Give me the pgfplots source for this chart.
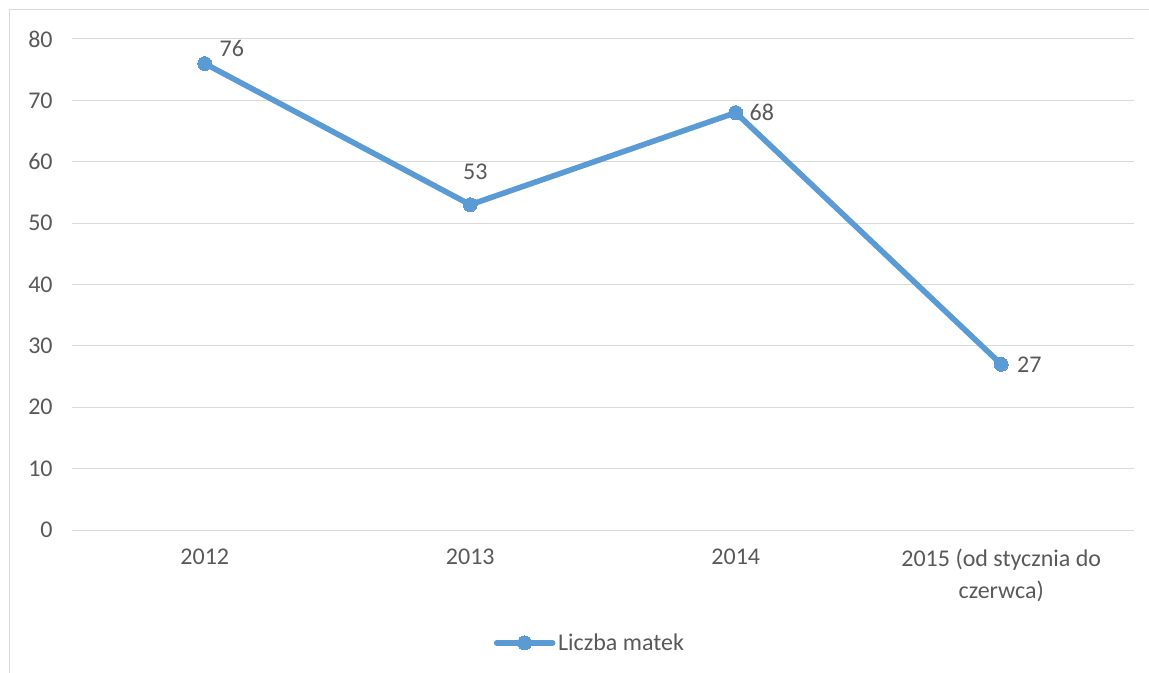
\documentclass[border=0pt]{standalone}
\usepackage{pgfplots}
\pgfplotsset{compat=1.18}
\usepackage{fontspec}
\setmainfont{Carlito}
\definecolor{ser}{HTML}{5B9BD5}
\definecolor{txt}{HTML}{595959}
\definecolor{grd}{HTML}{D9D9D9}
\begin{document}
\begin{tikzpicture}
\useasboundingbox (0pt,0pt) rectangle (861.75pt,504pt);
\draw[grd, line width=0.75pt] (6.75pt,-20pt) -- (6.75pt,496.5pt) -- (880pt,496.5pt);
\begin{axis}[
  at={(54pt,106.5pt)}, anchor=south west,
  scale only axis, width=796.5pt, height=368.25pt,
  xmin=-0.5, xmax=3.5, ymin=0, ymax=80,
  ytick={0,10,...,80},
  xtick={0,1,2,3},
  xticklabels={2012,2013,2014,{2015 (od stycznia do\\czerwca)}},
  axis line style={draw=none},
  tick style={draw=none},
  ymajorgrids, grid style={grd, line width=0.75pt},
  /pgf/number format/assume math mode=true,
  ticklabel style={font=\fontsize{18}{24}\selectfont, text=txt},
  xticklabel style={align=center, yshift=-10.5pt},
  yticklabel style={xshift=-11pt},
  legend style={draw=none, fill=none, at={(0.488,-0.230)}, anchor=center,
    font=\fontsize{18}{22}\selectfont, text=txt},
  legend image code/.code={\draw[mark repeat=2,mark phase=2,#1] plot coordinates {(0pt,0pt)(21pt,0pt)(42pt,0pt)};},
]
\addplot[ser, line width=4.2pt, line cap=round, line join=round,
  mark=*, mark size=5.25pt, mark options={solid, fill=ser, draw=ser, line width=0pt},
  nodes near coords,
  every node near coord/.append style={font=\fontsize{18}{22}\selectfont, text=txt, anchor=center},
  coordinate style/.condition={x==0}{xshift=20.25pt, yshift=11.25pt},
  coordinate style/.condition={x==1}{xshift=3.75pt, yshift=24.75pt},
  coordinate style/.condition={x==2}{xshift=19.5pt, yshift=0pt},
  coordinate style/.condition={x==3}{xshift=21pt, yshift=0pt},
] coordinates {(0,76) (1,53) (2,68) (3,27)};
\addlegendentry{Liczba matek}
\end{axis}
\end{tikzpicture}
\end{document}
